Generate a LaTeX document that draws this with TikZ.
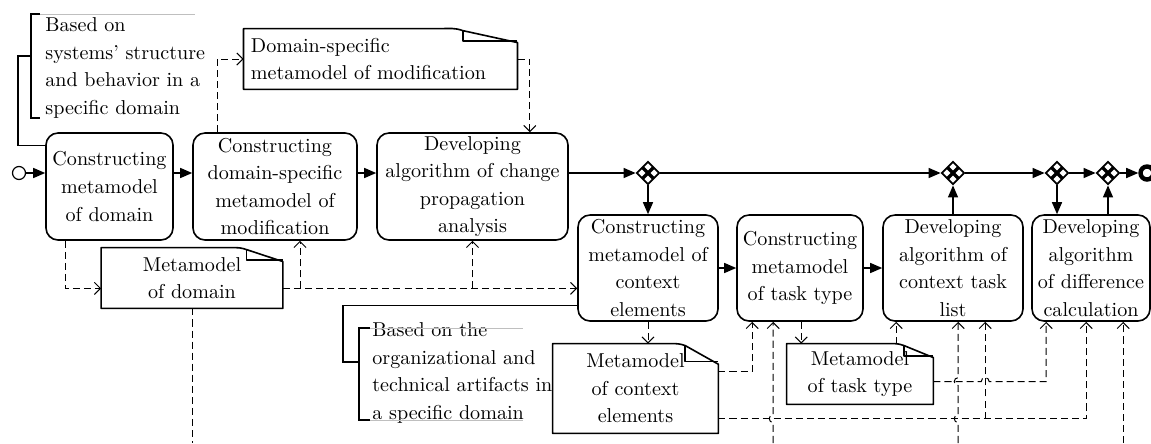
\documentclass[tikz,border=0pt]{standalone}
\usepackage{tikz}
\usetikzlibrary{calc,arrows.meta,shapes.geometric}
\def\pxu{0.4975pt}
\newcommand\docframe[1]{%
  \draw[docline] (#1.north west) -- ($(#1.north west)!0.72!(#1.north east)$)
    to[out=0,in=160] ($(#1.north west)!0.8!(#1.north east)+(0,2)$)
    -- ($(#1.north east)!0.23!(#1.south east)$) -- (#1.south east) -- (#1.south west) -- cycle;
  \draw[docline] ($(#1.north west)!0.8!(#1.north east)+(0,2)$) |- ($(#1.north east)!0.2!(#1.south east)$);}
\tikzset{
  txt/.style={font=\fontsize{10pt}{13.7pt}\selectfont},
  dims/.style 2 args={minimum width=#1*\pxu, minimum height=#2*\pxu},
  task/.style={txt, draw, rounded corners=6pt, line width=0.8pt, align=center, inner sep=1pt},
  doc/.style={txt, align=center, inner sep=1pt},
  docline/.style={line width=0.8pt, line join=round},
  note/.style={txt, align=left, inner sep=0pt, anchor=west},
  bracket/.style={line width=0.6pt},
  startev/.style={circle, draw, line width=0.6pt, minimum size=13*\pxu, inner sep=0pt},
  endev/.style={circle, draw, line width=2.2pt, minimum size=13*\pxu, inner sep=0pt},
  gate/.style={diamond, draw, line width=0.9pt, minimum width=23*\pxu, minimum height=23*\pxu, inner sep=0pt,
    path picture={\draw[line width=1.6pt]
      ($(path picture bounding box.north)!0.5!(path picture bounding box.east)$) -- ($(path picture bounding box.south)!0.5!(path picture bounding box.west)$)
      ($(path picture bounding box.north)!0.5!(path picture bounding box.west)$) -- ($(path picture bounding box.south)!0.5!(path picture bounding box.east)$);}},
  flow/.style={line width=0.7pt, -{Triangle[length=6pt,width=5pt]}},
  link/.style={line width=0.5pt, dash pattern=on 3.5pt off 2pt},
  data/.style={link, -{Straight Barb[length=3pt,width=6pt]}},
  assoc/.style={line width=0.6pt},
}

\begin{document}
\begin{tikzpicture}[x=0.4975pt, y=-0.4975pt]
\useasboundingbox (0,0) rectangle (1151,443);
\coordinate (bot) at (0,443);

% tasks
\node[task, dims={127}{107}] (A) at (109.5,186.5) {Constructing\\metamodel\\of domain};
\node[task, dims={164}{107}] (B) at (275,186.5) {Constructing\\domain-specific\\metamodel of\\modification};
\node[task, dims={191}{107}] (C) at (472.5,186.5) {Developing\\algorithm of change\\propagation\\analysis};
\node[task, dims={140}{106}] (D) at (648,268) {Constructing\\metamodel of\\context\\elements};
\node[task, dims={126}{106}] (E) at (800,268) {Constructing\\metamodel\\of task type};
\node[task, dims={140}{106}] (F) at (953,268) {Developing\\algorithm of\\context task\\list};
\node[task, dims={118}{106}] (H) at (1091,268) {Developing\\algorithm\\of difference\\calculation};

% events and gateways
\node[startev] (start) at (19,173) {};
\node[gate] (G1) at (648,173) {};
\node[gate] (G2) at (953,173) {};
\node[gate] (G3) at (1057,173) {};
\node[gate] (G4) at (1108,173) {};
\node[endev] (stop) at (1147,173) {};

% data objects
\node[doc, minimum height=60*\pxu, text width=128.9pt, inner xsep=3.5pt, align=left] (DM1) at (380.5,59) {Domain-specific\\metamodel of modification};
\node[doc, dims={181}{60}] (MD) at (192,278) {Metamodel\\of domain};
\node[doc, dims={165}{89}] (MCE) at (635.5,388.5) {Metamodel\\of context\\elements};
\node[doc, dims={146}{60}] (MTT) at (860,374) {Metamodel\\of task type};
\docframe{DM1}
\docframe{MD}
\docframe{MCE}
\docframe{MTT}

% annotations
\node[note] (N1) at (45,68) {Based on\\systems' structure\\and behavior in a\\specific domain};
\node[note] (N2) at (372,373) {Based on the\\organizational and\\technical artifacts in\\a specific domain};
\draw[bracket] (40,14) -- (31,14) -- (31,118) -- (40,118);
\draw[gray!50, line width=0.4pt] (40,14) -- (195,14);
\draw[bracket] (370,328) -- (359,328) -- (359,420) -- (370,420);
\draw[gray!50, line width=0.4pt] (370,328) -- (523,328) (370,420) -- (523,420);
\coordinate (N1m) at (31,56);
\coordinate (N2m) at (359,362);
\draw[assoc] (N1m) -- ++(-13,0) |- ($(A.north west)+(0,13)$);
\draw[assoc] (N2m) -- ++(-16,0) |- ($(D.south west)+(0,-16)$);

% sequence flow
\draw[flow] (start) -- (start -| A.west);
\draw[flow] (A.east |- start) -- (B.west |- start);
\draw[flow] (B.east |- start) -- (C.west |- start);
\draw[flow] (C.east |- G1) -- (G1);
\draw[flow] (G1) -- (G2);
\draw[flow] (G2) -- (G3);
\draw[flow] (G3) -- (G4);
\draw[flow] (G4) -- (stop);
\draw[flow] (G1) -- (D);
\draw[flow] (D) -- (E);
\draw[flow] (E) -- (F);
\draw[flow] (F) -- (G2);
\draw[flow] (G3) -- (G3 |- H.north);
\draw[flow] (G4 |- H.north) -- (G4);

% data associations
\coordinate (mdout) at ($(MD.south east)+(0,-20)$);
\coordinate (bin) at ($(B.south)+(25,0)$);
\coordinate (ein1) at ($(E.south west)+(16,0)$);
\coordinate (ein2) at ($(E.south west)+(37,0)$);
\coordinate (eout) at ($(E.south west)+(65,0)$);
\coordinate (fin1) at ($(F.south west)+(14,0)$);
\coordinate (fin2) at ($(F.south west)+(76,0)$);
\coordinate (fin3) at ($(F.south west)+(103,0)$);
\coordinate (hin1) at ($(H.south west)+(15,0)$);
\coordinate (hin2) at ($(H.south west)+(55,0)$);
\coordinate (hin3) at ($(H.south west)+(92,0)$);
\coordinate (mce1) at ($(MCE.north east)+(0,28)$);
\coordinate (mce2) at ($(MCE.north east)+(0,75)$);
\coordinate (mtt1) at ($(MTT.north east)+(0,38)$);

\draw[data] ($(A.south west)+(20,0)$) |- (mdout -| MD.west);
\draw[data] (mdout) -- (mdout -| D.west);
\draw[data] (mdout -| bin) -- (bin);
\draw[data] (mdout -| C.south) -- (C.south);
\draw[link] (MD.south) -- (MD.south |- bot);
\draw[data] ($(B.north west)+(25,0)$) |- (DM1.west);
\draw[data] (DM1.east) -| ($(C.north east)+(-39,0)$);
\draw[data] (D.south) -- (D.south |- MCE.north);
\draw[data] (mce1) -| (ein1);
\draw[data] (mce2) -| (hin2);
\draw[data] (mce2 -| fin3) -- (fin3);
\draw[data] (eout) -- (eout |- MTT.north);
\draw[data] (fin1 |- MTT.north) -- (fin1);
\draw[data] (mtt1) -- ($(mtt1 -| fin3)+(-4,0)$) arc[start angle=180, end angle=360, radius=4] -| (hin1);
\draw[data] (ein2 |- bot) -- ($(ein2 |- mce2)+(0,4)$) arc[start angle=90, end angle=270, radius=4] -- (ein2);
\draw[data] (fin2 |- bot) -- ($(fin2 |- mce2)+(0,4)$) arc[start angle=90, end angle=270, radius=4]
  -- ($(fin2 |- mtt1)+(0,4)$) arc[start angle=90, end angle=270, radius=4] -- (fin2);
\draw[data] (hin3 |- bot) -- (hin3);
\end{tikzpicture}
\end{document}
